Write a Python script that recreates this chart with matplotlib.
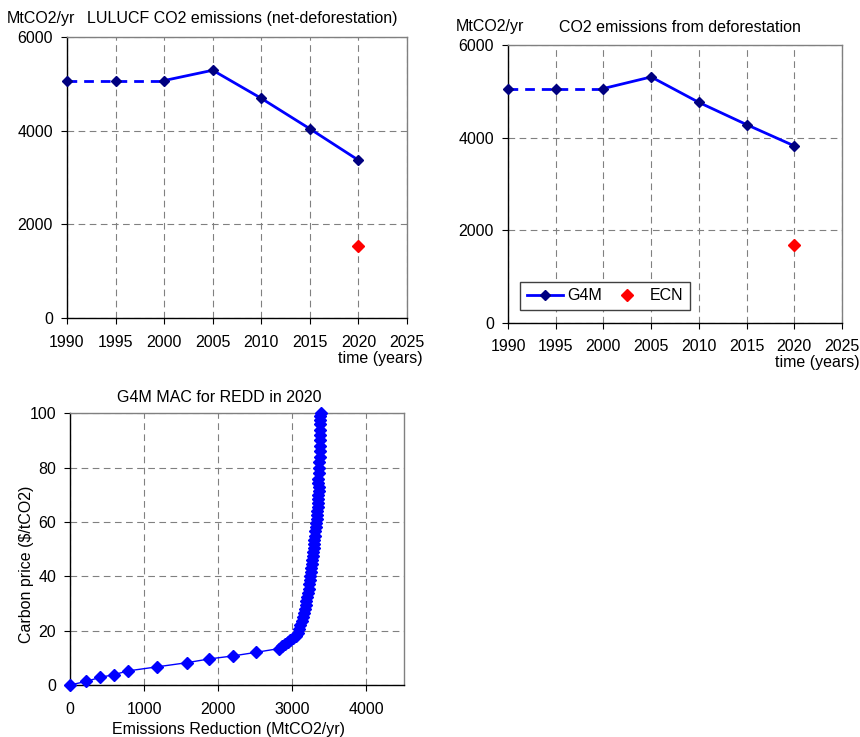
import matplotlib
matplotlib.use("Agg")
import matplotlib.pyplot as plt
from matplotlib.lines import Line2D

plt.rcParams['font.family'] = ['Liberation Sans', 'DejaVu Sans']
FS = 11.5
plt.rcParams['font.size'] = FS

# ---- data -------------------------------------------------------------
years = [1990, 1995, 2000, 2005, 2010, 2015, 2020]
lulucf_g4m = [5070, 5070, 5070, 5290, 4690, 4040, 3370]
lulucf_ecn_year = [2020]
lulucf_ecn = [1540]

defor_g4m = [5060, 5060, 5060, 5310, 4760, 4280, 3820]
defor_ecn_year = [2020]
defor_ecn = [1680]

year_ticks = [1990, 1995, 2000, 2005, 2010, 2015, 2020, 2025]
emis_ticks = [0, 2000, 4000, 6000]

# marginal abatement cost curve: reduction (MtCO2/yr) vs carbon price ($/tCO2)
mac_reduction = [0, 215, 405, 590, 785, 1180, 1575, 1880, 2200, 2505, 2820,
                 2855, 2895, 2935, 2975, 3010, 3045, 3075, 3095, 3110, 3125,
                 3140, 3155, 3170, 3180, 3190, 3200, 3210, 3220, 3228, 3236,
                 3244, 3250, 3256, 3262, 3268, 3274, 3280, 3286, 3292, 3298,
                 3304, 3310, 3316, 3322, 3328, 3334, 3338, 3342, 3346, 3350,
                 3352, 3354, 3356, 3350, 3352, 3358, 3362, 3365, 3368, 3370,
                 3372, 3374, 3376, 3377, 3378, 3379, 3380, 3381]
mac_price = [0, 1.3, 2.8, 3.8, 5.2, 6.7, 8.2, 9.6, 10.7, 12.0, 13.4,
             14.2, 15.0, 15.8, 16.6, 17.4, 18.2, 19.0, 20.5, 22.0, 23.5,
             25.0, 26.5, 28.0, 29.5, 31.0, 32.5, 34.0, 35.5, 37.0, 38.5,
             40.0, 41.5, 43.0, 44.5, 46.0, 47.5, 49.0, 50.5, 52.0, 53.5,
             55.0, 56.5, 58.0, 59.5, 61.0, 62.5, 64.0, 65.5, 67.0, 68.5,
             70.0, 71.5, 73.0, 74.5, 76.0, 78.0, 80.0, 82.0, 84.0, 86.0,
             88.0, 90.0, 92.0, 94.0, 96.0, 97.5, 99.0, 100.0]
mac_xticks = [0, 1000, 2000, 3000, 4000]
mac_yticks = [0, 20, 40, 60, 80, 100]

# ---- styles -----------------------------------------------------------
LINE_BLUE = '#0000FF'
NAVY = '#000080'
RED = '#FF0000'
GRID_GRAY = '#808080'


def style_axes(ax):
    ax.grid(True, color=GRID_GRAY, linestyle=(0, (6, 4)), linewidth=0.8)
    ax.set_axisbelow(True)
    ax.spines['left'].set_color('black')
    ax.spines['bottom'].set_color('black')
    ax.spines['top'].set_color(GRID_GRAY)
    ax.spines['right'].set_color(GRID_GRAY)
    for s in ax.spines.values():
        s.set_linewidth(1.0)
    ax.tick_params(direction='out', length=4, width=0.8, color='black',
                   labelsize=FS)
    ax.tick_params(axis='x', pad=8)
    ax.tick_params(axis='y', pad=6)


def emission_panel(fig, rect, values, ecn_year, ecn_vals, title, title_x,
                   unit_x, text_y, time_x, time_y):
    ax = fig.add_axes(rect)
    # dashed back-cast segment and solid projection
    ax.plot(years[:3], values[:3], color=LINE_BLUE, lw=2.0,
            linestyle=(0, (3.5, 2.5)), zorder=3)
    ax.plot(years[2:], values[2:], color=LINE_BLUE, lw=2.0, zorder=3)
    ax.plot(years, values, linestyle='none', marker='D', ms=5.3,
            color=NAVY, zorder=4, clip_on=False)
    ax.plot(ecn_year, ecn_vals, linestyle='none', marker='D', ms=6.5,
            color=RED, zorder=4)
    ax.set_xlim(1990, 2025)
    ax.set_ylim(0, 6000)
    ax.set_xticks(year_ticks)
    ax.set_yticks(emis_ticks)
    style_axes(ax)
    fig.text(unit_x, text_y, 'MtCO2/yr', va='center', ha='left')
    fig.text(title_x, text_y, title, va='center', ha='left')
    fig.text(time_x, time_y, 'time (years)', va='center', ha='right')
    return ax


W, H = 860, 737
fig = plt.figure(figsize=(W / 100, H / 100), dpi=100)

emission_panel(fig, [67 / W, 1 - 318 / H, 340 / W, 281 / H],
               lulucf_g4m, lulucf_ecn_year, lulucf_ecn,
               'LULUCF CO2 emissions (net-deforestation)',
               87 / W, 7 / W, 1 - 19 / H, 423 / W, 1 - 358 / H)

ax2 = emission_panel(fig, [508 / W, 1 - 322.7 / H, 334 / W, 277.7 / H],
                     defor_g4m, defor_ecn_year, defor_ecn,
                     'CO2 emissions from deforestation',
                     559 / W, 456 / W, 1 - 27 / H, 860 / W, 1 - 362 / H)

handles = [Line2D([], [], color=LINE_BLUE, lw=2.0, marker='D', ms=5.3,
                  markerfacecolor=NAVY, markeredgecolor=NAVY),
           Line2D([], [], linestyle='none', marker='D', ms=6.5, color=RED)]
leg = ax2.legend(handles, ['G4M', 'ECN'], ncol=2, loc='lower left',
                 bbox_to_anchor=(12 / 334, 12.7 / 277.7),
                 frameon=True, fancybox=False, framealpha=1,
                 edgecolor='#404040', borderpad=0.42, borderaxespad=0,
                 handlelength=2.25, columnspacing=0.4, handletextpad=0.3)
leg.get_frame().set_linewidth(1.0)

# MAC curve
ax3 = fig.add_axes([70 / W, 1 - 685 / H, 333.5 / W, 271.7 / H])
ax3.plot(mac_reduction, mac_price, color=LINE_BLUE, lw=1.0, marker='D',
         ms=6.3, markerfacecolor=LINE_BLUE, markeredgecolor=LINE_BLUE,
         zorder=3, clip_on=False)
ax3.set_xlim(0, 4500)
ax3.set_ylim(0, 100)
ax3.set_xticks(mac_xticks)
ax3.set_yticks(mac_yticks)
style_axes(ax3)
ax3.set_title('G4M MAC for REDD in 2020', x=(219 - 70) / 333.5, pad=8,
              fontsize=FS)
ax3.set_xlabel('Emissions Reduction (MtCO2/yr)')
ax3.xaxis.set_label_coords((229 - 70) / 333.5, (685 - 722) / 271.7)
ax3.set_ylabel('Carbon price ($/tCO2)')
ax3.yaxis.set_label_coords((34 - 70) / 333.5, (685 - 564) / 271.7)

fig.savefig('out.png', dpi=100)
